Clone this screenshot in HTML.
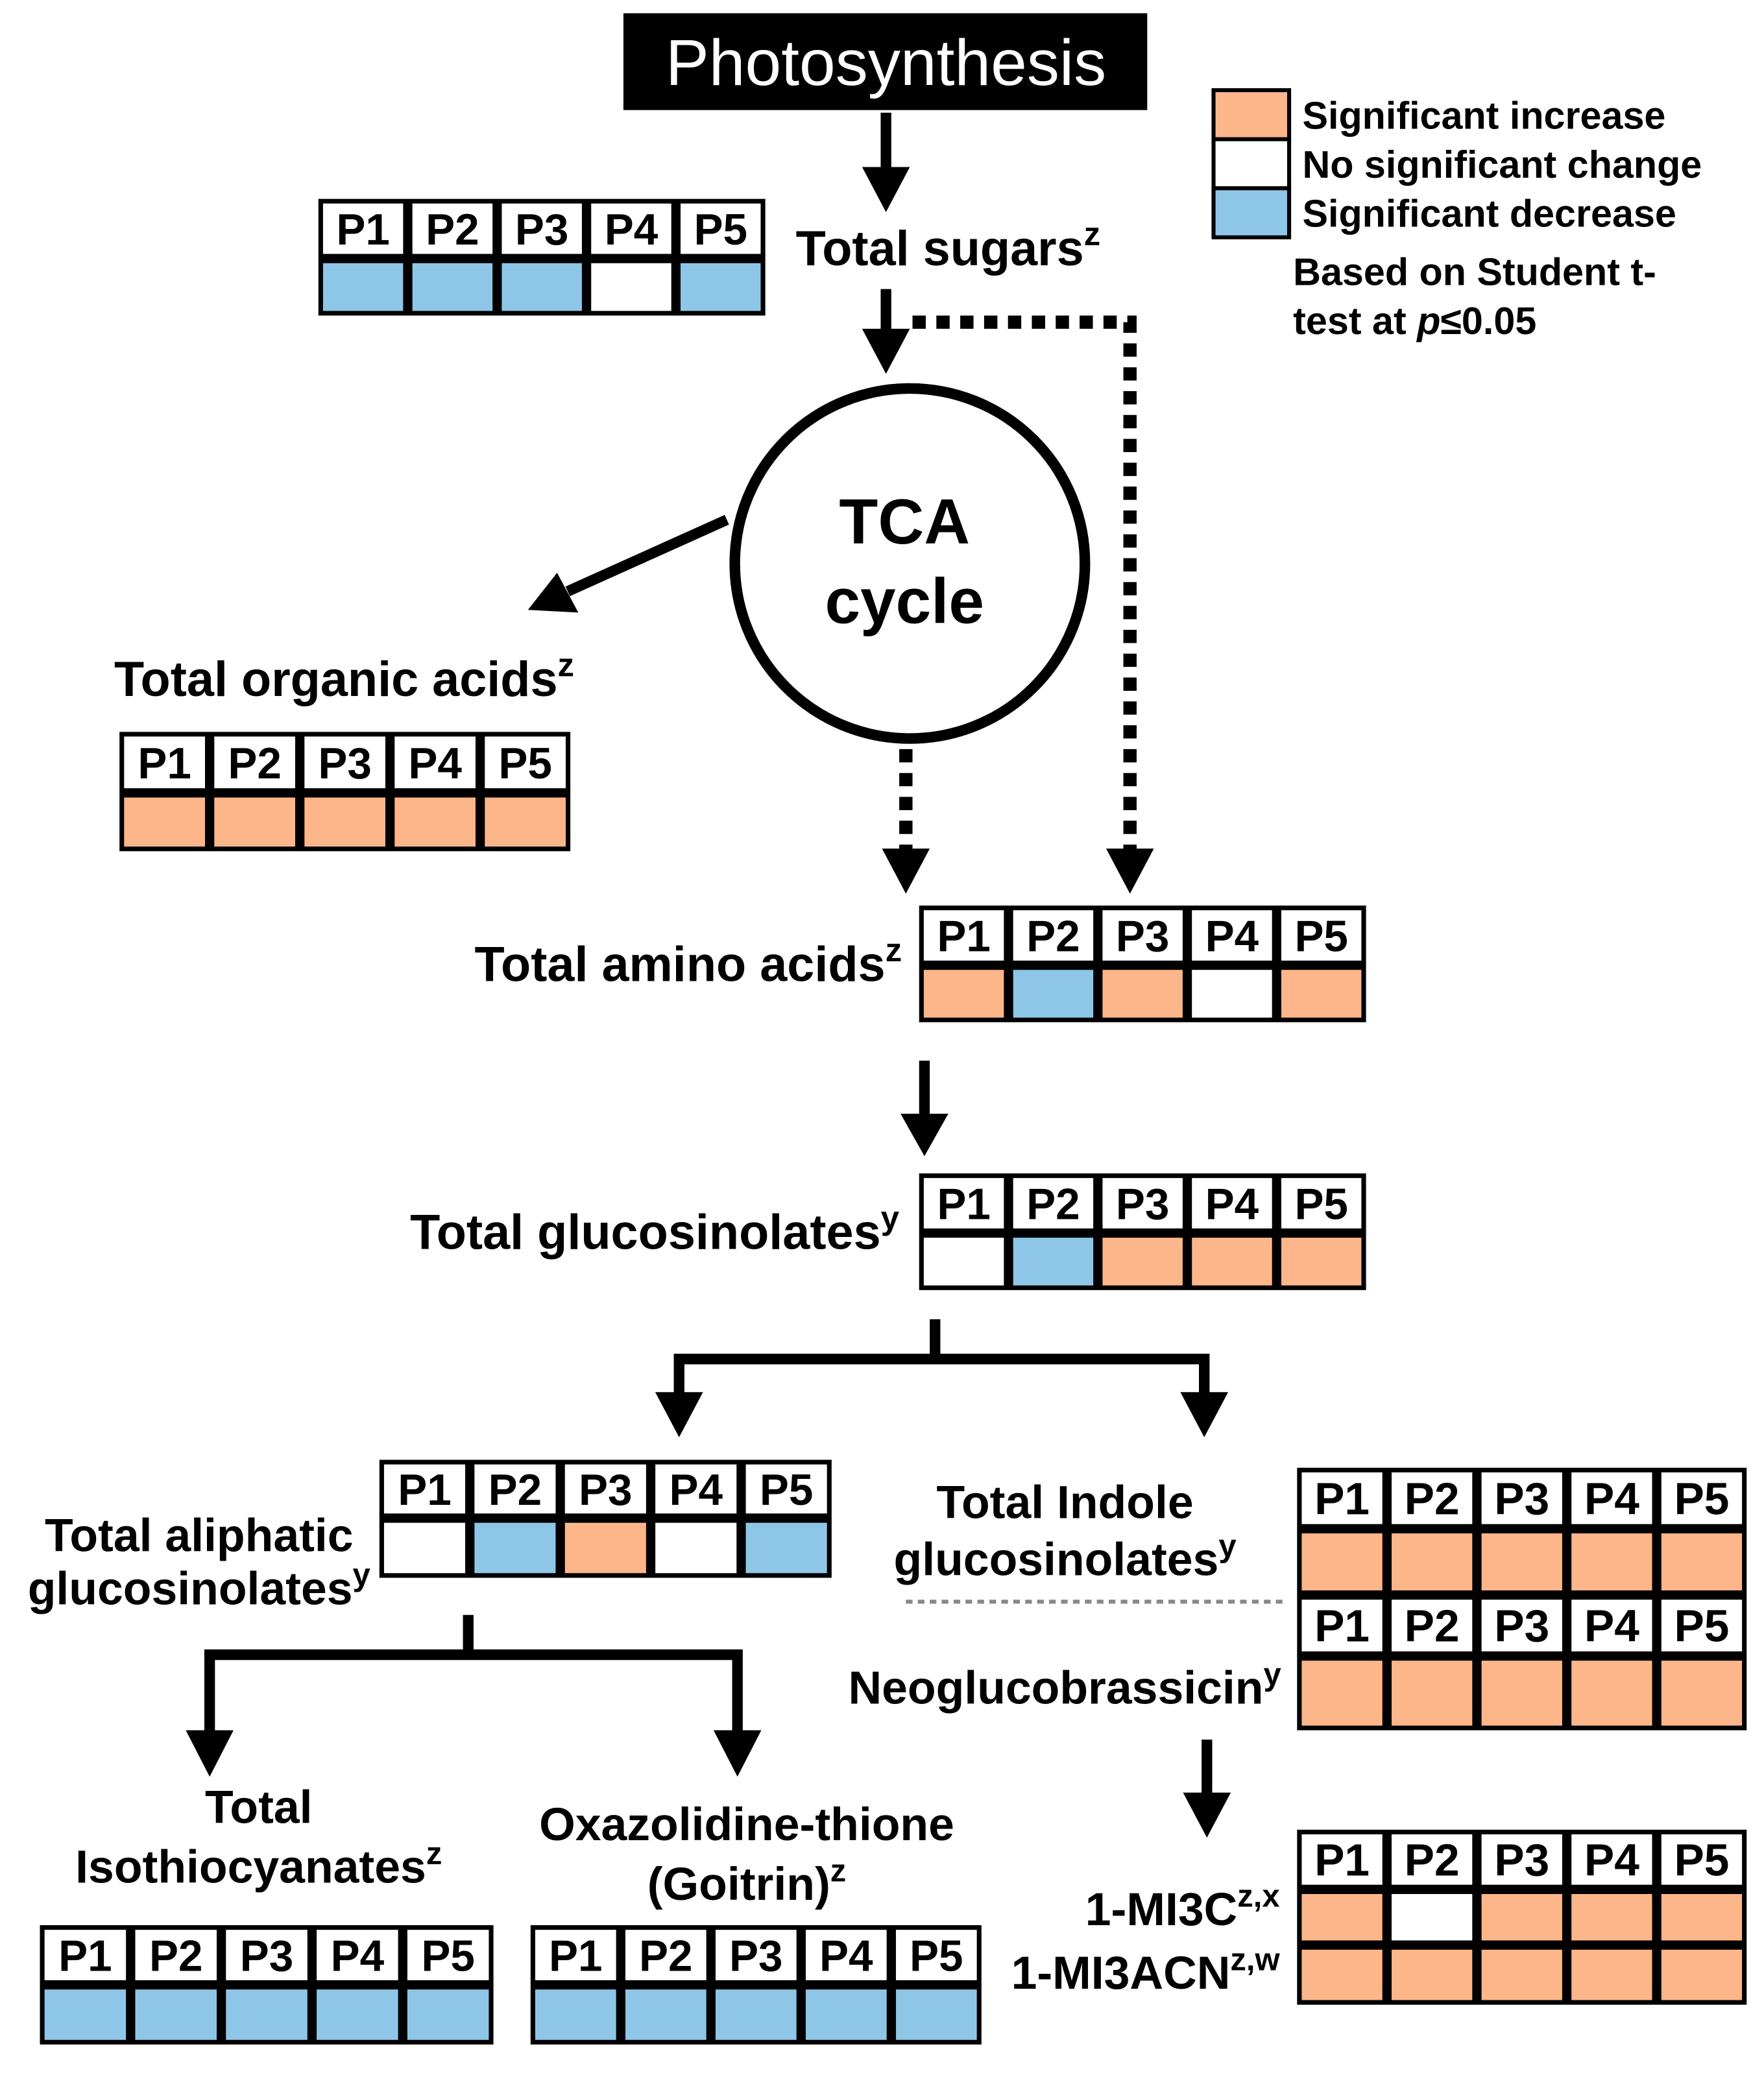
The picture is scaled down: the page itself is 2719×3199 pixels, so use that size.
<!DOCTYPE html>
<html><head><meta charset="utf-8"><style>
html,body{margin:0;padding:0;background:#fff}
svg{display:block}
text{font-family:"Liberation Sans",Arial,sans-serif;font-weight:bold;fill:#000}
</style></head><body>
<svg id="s" width="2719" height="3199" viewBox="0 0 1330 1565" xmlns="http://www.w3.org/2000/svg">
<rect x="470" y="10" width="395" height="73" fill="#000"/>
<text x="668" y="64" font-size="49" text-anchor="middle" style="fill:#fff;font-weight:normal">Photosynthesis</text>

<g stroke="#000" stroke-width="8" fill="none">
<line x1="668" y1="85" x2="668" y2="128"/>
<line x1="668" y1="218" x2="668" y2="250"/>
<line x1="548" y1="392" x2="428" y2="446"/>
<line x1="697" y1="800" x2="697" y2="840"/>
<polyline points="705,995 705,1025"/>
<polyline points="512,1052 512,1025 908,1025 908,1052"/>
<polyline points="353,1218 353,1248"/>
<polyline points="158,1308 158,1248 556,1248 556,1308"/>
<line x1="910" y1="1312" x2="910" y2="1355"/>
</g>
<g fill="#000">
<polygon points="650,126 686,126 668,160"/>
<polygon points="650,248 686,248 668,282"/>
<polygon points="679,840 715,840 697,872"/>
<polygon points="494,1050 530,1050 512,1084"/>
<polygon points="890,1050 926,1050 908,1084"/>
<polygon points="140,1305 176,1305 158,1340"/>
<polygon points="538,1305 574,1305 556,1340"/>
<polygon points="892,1352 928,1352 910,1386"/>
<polygon points="398,460 420,432 436,462"/>
<polygon points="665,640 701,640 683,674"/>
<polygon points="834,640 870,640 852,674"/>
</g>
<g stroke="#000" stroke-width="10" fill="none" stroke-dasharray="10,8">
<polyline points="688,243 852,243 852,642"/>
<line x1="683" y1="565" x2="683" y2="642"/>
</g>
<line x1="683" y1="1208" x2="968" y2="1208" stroke="#888" stroke-width="3" stroke-dasharray="5,4"/>

<circle cx="686" cy="425" r="132" fill="#fff" stroke="#000" stroke-width="8"/>
<text x="682" y="410" font-size="48" text-anchor="middle">TCA</text>
<text x="682" y="470" font-size="48" text-anchor="middle">cycle</text>

<g font-size="37">
<text x="600" y="200">Total sugars<tspan font-size="25" dy="-15">z</tspan></text>
<text x="86" y="525">Total organic acids<tspan font-size="25" dy="-15">z</tspan></text>
<text x="680" y="740" text-anchor="end">Total amino acids<tspan font-size="25" dy="-15">z</tspan></text>
<text x="678" y="942" text-anchor="end">Total glucosinolates<tspan font-size="25" dy="-15">y</tspan></text>
</g>
<g font-size="35" text-anchor="middle">
<text x="150" y="1170">Total aliphatic</text>
<text x="150" y="1210">glucosinolates<tspan font-size="24" dy="-14">y</tspan></text>
<text x="803" y="1145">Total Indole</text>
<text x="803" y="1188">glucosinolates<tspan font-size="24" dy="-14">y</tspan></text>
<text x="195" y="1375">Total</text>
<text x="195" y="1420">Isothiocyanates<tspan font-size="24" dy="-14">z</tspan></text>
<text x="563" y="1388">Oxazolidine-thione</text>
<text x="563" y="1433">(Goitrin)<tspan font-size="24" dy="-14">z</tspan></text>
</g>
<g font-size="35" text-anchor="end">
<text x="966" y="1285">Neoglucobrassicin<tspan font-size="24" dy="-14">y</tspan></text>
<text x="965" y="1452">1-MI3C<tspan font-size="24" dy="-14">z,x</tspan></text>
<text x="965" y="1500">1-MI3ACN<tspan font-size="24" dy="-14">z,w</tspan></text>
</g>

<rect x="915" y="68" width="57" height="37" fill="#FDB68A" stroke="#000" stroke-width="3"/>
<rect x="915" y="105" width="57" height="37" fill="#fff" stroke="#000" stroke-width="3"/>
<rect x="915" y="142" width="57" height="37" fill="#8EC6E8" stroke="#000" stroke-width="3"/>
<g font-size="29">
<text x="982" y="97">Significant increase</text>
<text x="982" y="134">No significant change</text>
<text x="982" y="171">Significant decrease</text>
<text x="975" y="215">Based on Student t-</text>
<text x="975" y="252">test at <tspan font-style="italic">p</tspan>≤0.05</text>
</g>
<g id="tables"></g>
</svg>
<script>
var C={o:"#FDB68A",b:"#8EC6E8",w:"#ffffff"};
var g=document.getElementById("tables"),NS="http://www.w3.org/2000/svg";
function el(t,a,txt){var e=document.createElementNS(NS,t);for(var k in a)e.setAttribute(k,a[k]);if(txt)e.textContent=txt;g.appendChild(e);return e;}
function tbl(x,y,w,rows,fs){var tot=0;rows.forEach(r=>tot+=r[1]);
el("rect",{x:x,y:y,width:w,height:tot,fill:"#000"});
var cw=w/5,yy=y;
rows.forEach(function(r){for(var i=0;i<5;i++){var cx=x+i*cw;
 var fill=r[0]==='h'?"#fff":C[r[0][i]];
 el("rect",{x:cx+3.5,y:yy+3.5,width:cw-7,height:r[1]-7,fill:fill});
 if(r[0]==='h')el("text",{x:cx+cw/2,y:yy+r[1]/2+12,"font-size":fs||33,"text-anchor":"middle"},"P"+(i+1));}
 yy+=r[1];});}
tbl(240,150,337,[['h',45],['bbbwb',43]]);
tbl(90,552,340,[['h',46],['ooooo',44]]);
tbl(693,683,337,[['h',45],['obowo',43]]);
tbl(693,885,337,[['h',45],['wbooo',43]]);
tbl(286,1101,341,[['h',44],['wbowb',45]]);
tbl(978,1107,339,[['h',46],['ooooo',50],['h',46],['ooooo',56]],34);
tbl(978,1380,339,[['h',45],['owooo',42],['ooooo',45]],34);
tbl(30,1452,342,[['h',45],['bbbbb',45]]);
tbl(400,1452,340,[['h',45],['bbbbb',45]]);
</script>
</body></html>
